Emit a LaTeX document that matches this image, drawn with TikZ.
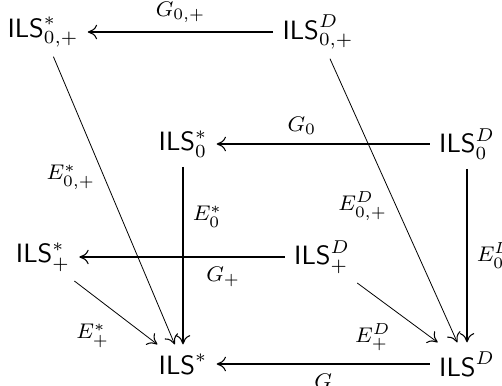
\documentclass[tikz,border=0pt]{standalone}
\usetikzlibrary{positioning, arrows.meta}

\begin{document}
\begin{tikzpicture}[
        x=0.01326cm, y=-0.01326cm,
        obj/.style={inner sep=0.3333em},
        tip/.style={-{Computer Modern Rightarrow[length=3.5pt, width=5.5pt, line width=0.4pt]}},
        gmap/.style={tip, line width=0.7pt},
        emap/.style={tip, line width=0.7pt},
        slant/.style={tip, line width=0.3pt},
        lbl/.style={font=\footnotesize}
    ]
        \useasboundingbox (0,0) rectangle (502,386);

        % Nodes
        \node[obj] (ilsSzp) at (43,32)  {$\mathsf{ILS}^*_{0,+}$};
        \node[obj] (ilsDzp) at (318,32) {$\mathsf{ILS}^D_{0,+}$};
        \node[obj] (ilsSz)  at (183,144) {$\mathsf{ILS}^*_{0}$};
        \node[obj] (ilsDz)  at (467,144) {$\mathsf{ILS}^D_{0}$};
        \node[obj] (ilsSp)  at (43,257) {$\mathsf{ILS}^*_{+}$};
        \node[obj] (ilsDp)  at (322,257) {$\mathsf{ILS}^D_{+}$};
        \node[obj] (ilsS)   at (183,364) {$\mathsf{ILS}^*$};
        \node[obj] (ilsD)   at (467,364) {$\mathsf{ILS}^D$};

        % Connectors
        \draw[gmap] (ilsDzp) -- node[lbl, above] {$G_{0,+}$} (ilsSzp);
        \draw[slant] (ilsSzp) -- node[lbl, left, pos=0.42] {$E^*_{0,+}$} (ilsS);
        \draw[slant] (ilsDzp) -- node[lbl, left, pos=0.52] {$E^D_{0,+}$} (ilsD);
        \draw[slant] (ilsSp) -- node[lbl, below left, pos=0.53] {$E^*_{+}$} (ilsS);
        \draw[slant] (ilsDp) -- node[lbl, below left, pos=0.53] {$E^D_{+}$} (ilsD);
        \draw[gmap] (ilsDz) -- node[lbl, above, pos=0.6] {$G_0$} (ilsSz);
        \draw[gmap] (ilsDp) -- node[lbl, below, pos=0.3] {$G_+$} (ilsSp);
        \draw[emap] (ilsSz) -- node[lbl, right, pos=0.28] {$E^*_0$} (ilsS);
        \draw[emap] (ilsDz) -- node[lbl, right] {$E^D_0$} (ilsD);
        \draw[gmap] (ilsD) -- node[lbl, below] {$G$} (ilsS);
    \end{tikzpicture}
\end{document}
